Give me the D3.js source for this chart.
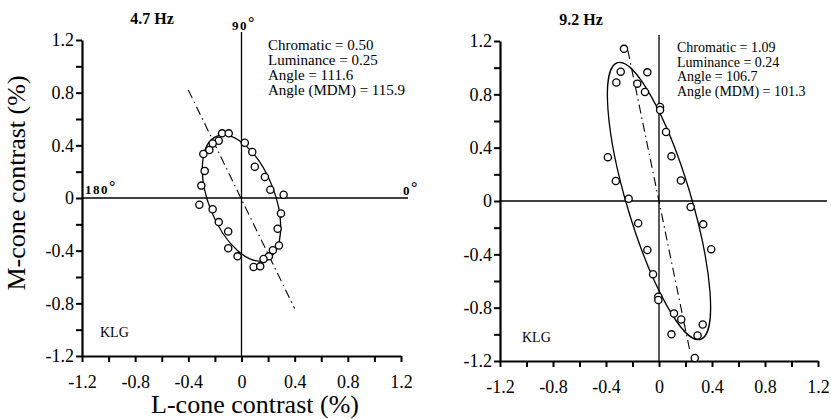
<!DOCTYPE html>
<html>
<head>
<meta charset="utf-8">
<script src="https://cdn.jsdelivr.net/npm/d3@7"></script>
<style>
  body { margin: 0; background: #fff; }
  svg { display: block; font-family: "Liberation Serif", "Times New Roman", serif; }
  .axis path, .axis line { stroke: #000; }
  .axis text { font-family: "Liberation Serif", "Times New Roman", serif; font-size: 18px; fill: #000; }
</style>
</head>
<body>
<div id="container"></div>
<script>
// values
const panelTitles = ['4.7 Hz', '9.2 Hz'];
const tickLabels = [-1.2, -0.8, -0.4, 0, 0.4, 0.8, 1.2];
const tickMinor = [-1.2, -1.0, -0.8, -0.6, -0.4, -0.2, 0, 0.2, 0.4, 0.6, 0.8, 1.0, 1.2];

// 4.7 Hz
const lConeA = [-0.146, -0.096, -0.171, -0.217, -0.242, -0.287, 0.025, 0.081, 0.100, -0.277,
  0.176, -0.302, 0.217, 0.317, -0.317, -0.217, 0.297, -0.171, 0.272, -0.100,
  -0.100, 0.282, 0.236, -0.030, 0.206, 0.166, 0.091, 0.141];
const mConeA = [0.491, 0.491, 0.435, 0.414, 0.364, 0.334, 0.420, 0.349, 0.237, 0.206,
  0.160, 0.094, 0.063, 0.025, -0.051, -0.086, -0.117, -0.183, -0.234, -0.254,
  -0.382, -0.361, -0.397, -0.443, -0.443, -0.463, -0.524, -0.519];

// 9.2 Hz
const lConeB = [-0.264, -0.289, -0.088, -0.322, -0.164, -0.106, 0.008, 0.008, 0.053, -0.386,
  0.094, -0.326, 0.165, -0.229, 0.239, -0.157, 0.334, -0.088, 0.394, -0.045,
  -0.005, -0.005, 0.113, 0.168, 0.094, 0.330, 0.291, 0.270];
const mConeB = [1.141, 0.970, 0.965, 0.889, 0.880, 0.817, 0.705, 0.682, 0.517, 0.329,
  0.335, 0.150, 0.154, 0.017, -0.045, -0.167, -0.175, -0.368, -0.361, -0.549,
  -0.718, -0.742, -0.844, -0.889, -1.000, -0.926, -1.009, -1.177];

// fit parameters (from the annotations)
const chromatic = [0.50, 1.09];
const luminance = [0.25, 0.24];
const angle = [111.6, 106.7];
const angleMDM = [115.9, 101.3];

// dash-dot MDM lines, endpoints in contrast units
const mdmLineA = [[-0.40, 0.82], [0.40, -0.84]];
const mdmLineB = [[-0.235, 1.13], [0.23, -1.11]];

const width = 831, height = 419;

const svg = d3.select('#container')
  .append('svg')
  .attr('width', width)
  .attr('height', height);

const panels = [
  { x0: 82, x1: 401, y0: 356, y1: 40, lc: lConeA, mc: mConeA, line: mdmLineA,
    title: [152, 24], text: [268, 50, 15, 15], klg: [100, 337], vTop: 32, hEnd: 408, deg: true },
  { x0: 500, x1: 818, y0: 361, y1: 41, lc: lConeB, mc: mConeB, line: mdmLineB,
    title: [581, 25], text: [677, 52, 14.5, 14], klg: [522, 342], vTop: 35, hEnd: 827, deg: false }
];

const fmt = d => tickLabels.some(t => Math.abs(t - d) < 1e-9) ? String(+d.toFixed(1)) : '';

panels.forEach((p, i) => {
  const xScale = d3.scaleLinear().domain([-1.2, 1.2]).range([p.x0, p.x1]);
  const yScale = d3.scaleLinear().domain([-1.2, 1.2]).range([p.y0, p.y1]);
  const g = svg.append('g');

  // zero lines
  g.append('line')
    .attr('x1', xScale(-1.2)).attr('x2', p.hEnd)
    .attr('y1', yScale(0)).attr('y2', yScale(0))
    .attr('stroke', '#000').attr('stroke-width', 1.3);
  g.append('line')
    .attr('x1', xScale(0)).attr('x2', xScale(0))
    .attr('y1', p.vTop).attr('y2', yScale(-1.2))
    .attr('stroke', '#000').attr('stroke-width', 1.3);

  // axes
  const xAxis = d3.axisBottom(xScale).tickValues(tickMinor).tickSize(6).tickSizeOuter(0).tickFormat(fmt);
  const yAxis = d3.axisLeft(yScale).tickValues(tickMinor).tickSize(6).tickSizeOuter(0).tickFormat(fmt);

  const gx = g.append('g').attr('class', 'axis')
    .attr('transform', `translate(0, ${yScale(-1.2)})`)
    .call(xAxis)
    .attr('font-family', null).attr('font-size', null);
  gx.select('.domain').attr('stroke-width', 2.2);
  gx.selectAll('line').attr('stroke-width', 2);
  gx.selectAll('text').attr('dy', '1.25em');

  const gy = g.append('g').attr('class', 'axis')
    .attr('transform', `translate(${xScale(-1.2)}, 0)`)
    .call(yAxis)
    .attr('font-family', null).attr('font-size', null);
  gy.select('.domain').attr('stroke-width', 2.2);
  gy.selectAll('line').attr('stroke-width', 2);
  gy.selectAll('text').attr('x', -8);

  // fitted ellipse
  const rx = xScale(chromatic[i]) - xScale(0);
  const ry = yScale(0) - yScale(luminance[i]);
  g.append('ellipse')
    .attr('transform', `translate(${xScale(0)}, ${yScale(0)}) rotate(${-angle[i]})`)
    .attr('rx', rx).attr('ry', ry)
    .attr('fill', 'none').attr('stroke', '#000').attr('stroke-width', 1.3);

  // MDM dash-dot line
  g.append('path')
    .attr('d', d3.line().x(d => xScale(d[0])).y(d => yScale(d[1]))(p.line))
    .attr('fill', 'none').attr('stroke', '#000').attr('stroke-width', 1.1)
    .attr('stroke-dasharray', '9,4,1.5,4');

  // data points
  g.selectAll('circle.pt')
    .data(p.lc.map((d, k) => [d, p.mc[k]]))
    .enter()
    .append('circle')
    .attr('class', 'pt')
    .attr('cx', d => xScale(d[0]))
    .attr('cy', d => yScale(d[1]))
    .attr('r', 3.6)
    .attr('fill', '#fff').attr('stroke', '#000').attr('stroke-width', 1.3);

  // title
  g.append('text')
    .attr('x', p.title[0]).attr('y', p.title[1])
    .attr('text-anchor', 'middle')
    .attr('font-size', 16).attr('font-weight', 'bold')
    .text(panelTitles[i]);

  // annotation
  const lines = [
    `Chromatic = ${chromatic[i].toFixed(2)}`,
    `Luminance = ${luminance[i].toFixed(2)}`,
    `Angle = ${angle[i].toFixed(1)}`,
    `Angle (MDM) = ${angleMDM[i].toFixed(1)}`
  ];
  g.append('text')
    .attr('font-size', p.text[3])
    .selectAll('tspan')
    .data(lines)
    .enter()
    .append('tspan')
    .attr('x', p.text[0])
    .attr('y', (d, k) => p.text[1] + k * p.text[2])
    .text(d => d);

  g.append('text')
    .attr('x', p.klg[0]).attr('y', p.klg[1])
    .attr('font-size', 14)
    .text('KLG');

  if (p.deg) {
    const degLabels = [['90', 232, 30], ['180', 85, 194], ['0', 403, 195]];
    degLabels.forEach(d => {
      const t = g.append('text')
        .attr('x', d[1]).attr('y', d[2])
        .attr('font-size', 13).attr('font-weight', 'bold')
        .attr('letter-spacing', 1.5);
      t.append('tspan').text(d[0]);
      t.append('tspan').attr('dy', -2).attr('font-size', 16).text('°');
    });
  }
});

// axis titles
svg.append('text')
  .attr('x', 255).attr('y', 413)
  .attr('text-anchor', 'middle')
  .attr('font-size', 26)
  .text('L-cone contrast (%)');

svg.append('text')
  .attr('transform', 'translate(25, 183) rotate(-90)')
  .attr('text-anchor', 'middle')
  .attr('font-size', 26)
  .text('M-cone contrast (%)');
</script>
</body>
</html>
